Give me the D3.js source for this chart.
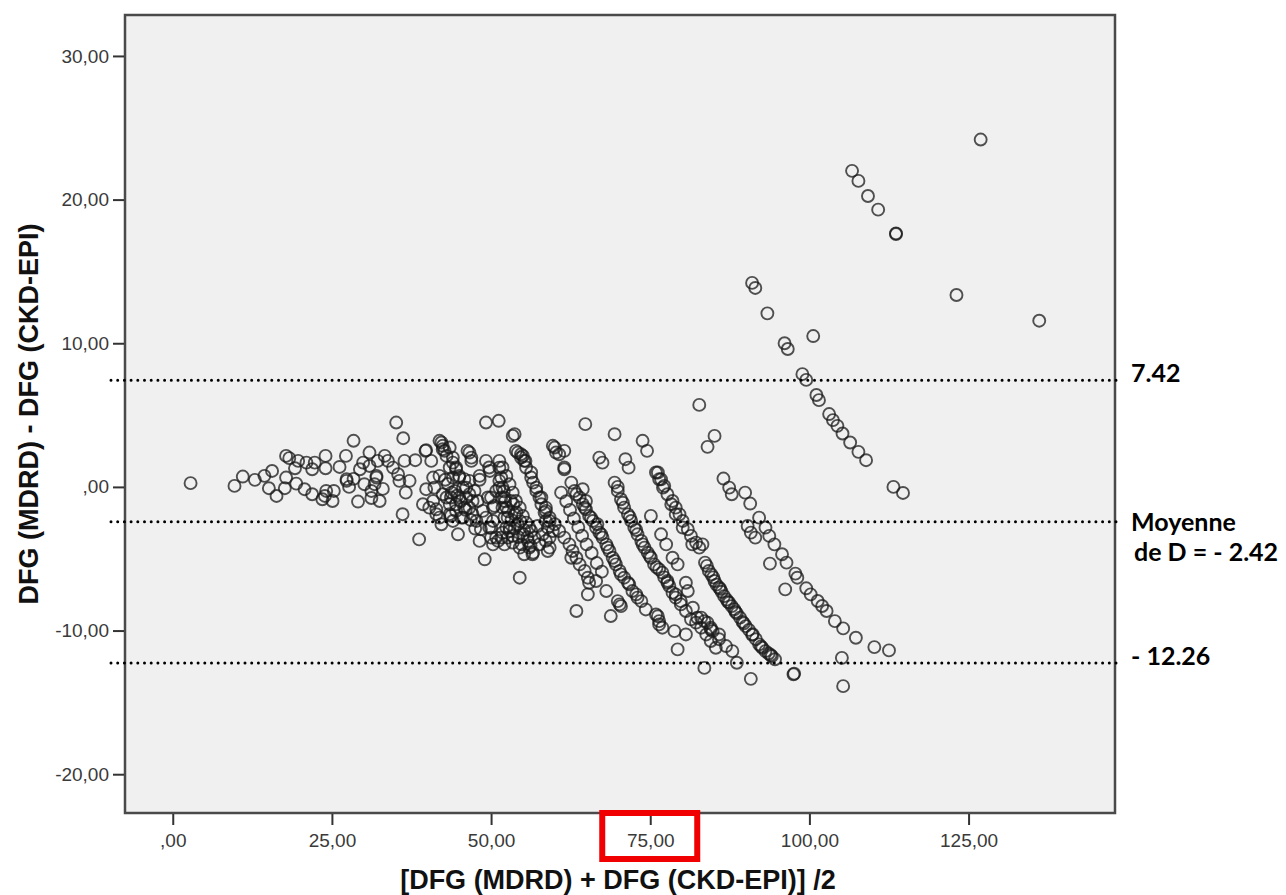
<!DOCTYPE html>
<html>
<head>
<meta charset="utf-8">
<script src="https://cdn.jsdelivr.net/npm/d3@7"></script>
<style>
  body { margin: 0; background: #fff; }
  svg { display: block; }
</style>
</head>
<body>
<svg id="chart" width="1286" height="895"></svg>
<script>
// Axis ticks (comma decimal separator, SPSS style)
const xTickValues = [0, 25, 50, 75, 100, 125];
const xTickLabels = [",00", "25,00", "50,00", "75,00", "100,00", "125,00"];
const yTickValues = [30, 20, 10, 0, -10, -20];
const yTickLabels = ["30,00", "20,00", "10,00", ",00", "-10,00", "-20,00"];

// Bland-Altman reference lines: upper limit, mean difference, lower limit
const limitValues = [7.42, -2.42, -12.26];
const limitLabels = [["7.42"], ["Moyenne", "de D = - 2.42"], ["- 12.26"]];
const highlightedTick = 75;

const xTitle = "[DFG (MDRD) + DFG (CKD-EPI)] /2";
const yTitle = "DFG (MDRD) - DFG (CKD-EPI)";

// [mean of both GFR estimates, difference MDRD - CKD-EPI]
const lowGfr = [
  [2.8,0.26],[9.7,0.07],[11.0,0.72],[12.9,0.49],[14.4,0.77],[15.6,1.11],[15.1,-0.09],[16.3,-0.63],
  [17.8,2.16],[18.3,2.0],[17.8,0.65],[17.6,-0.09],[19.2,1.3],[19.7,1.81],[19.4,0.23],[20.7,-0.16],
  [21.0,1.69],[21.9,1.23],[22.3,1.69],[21.9,-0.51],[23.5,-0.86],[24.0,2.16],[24.0,1.3],[24.1,-0.28],
  [25.3,-0.28],[23.9,-0.63],[25.1,-0.98],[26.2,1.39],[27.2,2.16],[27.3,0.54],[27.7,0.0],[27.3,0.42],
  [28.4,0.56],[28.4,3.21],[29.1,-1.02],[29.4,1.23],[29.9,1.69],[30.1,0.19],[30.9,2.39],[30.9,1.46],
  [31.2,-0.28],[31.2,-0.77],[31.7,0.19],[32.0,0.65],[32.0,0.77],[32.2,1.81],[32.5,-0.98],[33.0,-0.14],
  [33.3,2.16],[33.8,1.81],[34.6,1.34],[35.1,4.48],[35.4,0.88],[35.6,0.42],[36.2,3.39],[36.4,1.81],
  [36.6,-0.4],[36.1,-1.9],[37.2,0.42],[38.1,1.86],[38.7,-3.65],[39.3,-1.21],[39.7,2.51],[39.8,-0.16],
  [40.6,1.81],[40.9,0.65],[40.3,-1.44],[41.4,-1.9],[42.2,3.09],[42.4,2.62],[42.4,-0.51],[42.2,-2.6]
];

const midLowGfr = [
  [39.8,2.56],[41.9,3.21],[42.4,2.86],[42.7,2.51],[43.0,2.16],[44.0,1.69],[44.5,1.23],[45.0,0.77],
  [41.9,0.77],[41.1,-0.05],[40.9,-0.98],[41.4,-1.56],[41.9,-2.14],[43.0,-0.74],[43.5,-1.21],[43.7,-2.02],
  [44.5,-1.67],[44.8,-3.3],[45.6,-2.14],[46.3,2.51],[46.9,2.04],[45.8,0.54],[46.1,-0.05],[46.6,-0.51],
  [47.1,-0.98],[48.2,0.77],[48.2,-3.76],[49.0,-5.04],[49.2,4.48],[51.2,4.6],[49.2,1.81],[49.8,1.11],
  [50.0,-0.74],[50.5,-1.32],[50.0,-2.83],[50.8,-3.53],[51.3,1.34],[51.6,0.65],[51.8,-0.05],[52.1,-0.74],
  [52.4,-1.44],[52.6,-2.14],[52.9,-2.83],[53.4,-3.41],[53.4,3.55],[54.2,2.39],[54.5,-6.32],
  [43.5,2.74],[44.0,2.04],[44.5,1.35],[45.0,0.65],[45.6,-0.05],[46.1,-0.74],[46.6,-1.44],[47.1,-1.9],
  [47.7,-2.37],[48.4,-2.95],[43.5,1.35],[44.0,0.65],[44.3,-0.28],[43.7,-0.74],[44.5,-1.21],[43.5,-1.9],
  [44.0,-2.37],[45.3,-2.14],[45.8,-1.44],[45.0,-0.74],[46.6,0.42],[47.4,-0.28],[47.9,-0.98],[48.7,-1.67],
  [49.2,-2.14],[49.7,-2.84],[50.0,-3.53],[50.3,-4.0],[49.5,-0.74],[50.3,-1.44],[50.8,-0.28],[51.3,0.42],
  [46.6,2.39],[46.9,1.81],[49.7,1.35],[48.2,0.5],
  [43.2,0.2],[43.8,-0.4],[44.7,-0.6],[45.2,-1.0],[46.0,-1.6],[46.8,-2.3],[47.5,-2.9],[42.8,0.5]
];

const midGfr = [
  [51.3,1.81],[51.8,1.35],[52.4,0.76],[52.9,0.18],[53.4,-0.40],[53.9,-0.98],[54.5,-1.44],[55.0,-2.02],
  [55.5,-2.49],[56.3,-3.07],[56.8,-3.53],[51.3,-0.05],[51.6,-0.74],[51.8,-1.44],[52.1,-2.14],[52.4,-2.84],
  [51.6,-3.53],[52.1,-4.0],[53.1,-0.98],[53.7,-1.9],[54.2,-2.6],[55.0,-3.3],[55.8,-3.77],[52.9,-3.07],
  [53.4,-3.88],
  [52.2,-1.0],[52.7,-1.7],[53.2,-2.3],[53.7,-2.9],[54.3,-3.5],[54.8,-4.0],[52.0,-0.3],[53.5,-1.2],
  [54.0,-1.8],[54.6,-2.4],[55.2,-3.0],[55.7,-3.5],[56.2,-4.1],
  [54.7,2.27],[55.2,1.81],[55.5,1.35],[56.3,1.0],[56.6,0.3],[57.1,-0.28],[57.6,-0.74],[57.9,-1.21],
  [58.4,-1.79],[58.6,-2.37],[58.9,-2.84],[59.2,-3.53],[59.2,-4.23],[58.1,-3.3],[57.6,-4.0],[56.6,-4.58],
  [56.0,-2.84],[57.3,-2.72],
  [53.9,2.51],[54.7,2.04],[56.3,0.65],[57.1,-0.05],[57.9,-0.74],[58.6,-1.44],[59.2,-2.37],[59.7,-3.07],
  [58.6,-3.76],[58.9,-4.46],[56.5,-4.69],[50.3,-2.37],[51.1,-3.76],[51.8,-3.18],[52.6,-3.53],[54.5,-4.23],
  [55.2,-4.69],[56.0,-4.23],[59.7,2.86],[60.2,2.39],[61.5,1.23],[53.7,3.67],[55.0,2.16],[55.4,1.81],
  [58.6,-1.67],[59.2,-2.14],[60.0,-2.6],[60.7,-3.07],[61.5,-3.53],[62.3,-4.0],[62.8,-4.46],[63.4,-4.93],
  [63.9,-5.39],[64.7,-5.85],[65.2,-6.32],[65.4,-6.67],[66.5,-6.55],[65.2,-7.48],[63.4,-8.64],[62.6,-4.93],
  [68.1,-7.25],[69.9,-7.95],[70.4,-8.3],[68.8,-8.99],[70.2,-8.18],
  [60.0,2.74],[60.7,2.27],[61.5,1.35],[61.5,2.51],[62.6,0.3],[63.1,-0.28],[63.9,-0.74],[64.4,-1.21],
  [64.9,-1.56],[65.4,-2.02],[66.0,-2.37],[66.5,-2.84],[67.0,-3.18],[67.5,-3.53],[68.1,-4.0],[68.6,-4.46],
  [69.1,-4.93],[69.6,-5.39],[70.2,-5.85],[70.9,-6.32],[71.7,-6.78],[72.2,-7.25],[73.0,-7.71],[73.6,-7.95],
  [63.4,-0.51],[64.7,-1.44],[65.7,-2.14],[66.7,-2.6],[67.3,-3.3],[68.3,-4.23],[69.4,-5.16],[70.4,-6.09],
  [71.5,-6.67],[72.8,-7.48],[64.4,-0.16],[64.9,-0.98],
  [61.0,-0.4],[61.8,-1.0],[62.4,-1.6],[63.0,-2.2],[63.7,-2.8],[64.3,-3.4],[65.0,-4.0],[65.8,-4.6],
  [66.6,-5.3],[67.4,-5.9],
  [64.8,4.37],[69.4,3.67],[73.8,3.21],[74.5,2.51],[67.0,2.04],[67.5,1.69],[71.1,1.93],[71.6,1.34]
];

const midHighGfr = [
  [69.4,0.3],[69.9,-0.28],[70.4,-0.86],[70.9,-1.44],[71.5,-1.91],[72.0,-2.37],[72.5,-2.84],[73.0,-3.3],
  [73.6,-3.76],[74.1,-4.23],[74.6,-4.58],[75.1,-4.93],[75.6,-5.39],[76.4,-5.74],[76.9,-5.97],[77.7,-6.67],
  [78.5,-7.36],[79.0,-7.71],[79.8,-8.18],[80.6,-8.64],[81.4,-9.22],[82.2,-9.45],[83.0,-9.8],[83.8,-10.27],
  [84.5,-10.73],[85.3,-11.2],
  [69.9,0.0],[70.7,-1.1],[71.8,-2.1],[72.8,-3.0],[73.8,-4.0],[74.9,-4.8],[76.0,-5.6],[77.2,-6.3],[78.0,-6.9],
  [76.2,1.0],[76.7,0.53],[77.2,0.07],[77.7,-0.51],[78.5,-0.98],[79.0,-1.44],[79.6,-1.91],[80.1,-2.37],
  [80.9,-2.95],[81.4,-3.41],[82.2,-3.88],[82.7,-4.23],
  [75.9,1.0],[76.4,0.53],[77.0,-0.05],[78.3,-1.21],[79.0,-1.9],[80.1,-2.83],[81.6,-4.0],
  [75.1,-2.02],[76.7,-3.3],[77.5,-4.0],[78.5,-4.93],[79.3,-5.39],[77.7,-6.55],[79.0,-7.48],[80.6,-6.67],
  [80.9,-7.25],[79.8,-7.95],[81.7,-8.41],[82.4,-9.11],[83.5,-9.34],[84.5,-9.8],[85.8,-10.27],[74.3,-8.53],
  [75.9,-8.88],[76.4,-9.34],[76.9,-9.8],[78.8,-10.04],[80.6,-10.27],[79.3,-11.31],[76.2,-9.0],[76.4,-9.57],
  [84.8,-10.04]
];

const highGfr = [
  [126.9,24.18],[106.7,22.0],[107.7,21.3],[109.2,20.25],[110.8,19.3],[113.6,17.6],[113.6,17.65],
  [123.1,13.36],[136.1,11.57],[93.4,12.08],[91.0,14.2],[91.5,13.85],[100.6,10.5],[96.1,10.0],[96.6,9.6],
  [98.9,7.85],[99.5,7.45],[101.1,6.4],[101.5,6.04],[103.1,5.07],[103.7,4.65],[104.4,4.25],[105.2,3.72],
  [106.4,3.09],[107.7,2.44],[108.9,1.86],[113.2,0.0],[114.7,-0.42],
  [82.7,5.71],[85.1,3.55],[84.0,2.79],[86.5,0.58],[87.4,-0.05],[87.8,-0.51],[89.9,-0.4],[90.7,-1.16],
  [92.1,-2.14],[90.3,-2.72],[90.8,-3.18],[91.5,-3.53],[93.1,-2.83],[93.7,-3.41],[94.5,-4.0],[93.8,-5.34],
  [95.7,-4.69],[96.4,-5.27],[97.8,-6.04],[98.1,-6.32],[96.2,-7.13],[99.5,-7.06],[100.2,-7.48],[101.3,-7.94],
  [102.0,-8.29],[102.7,-8.64],[104.0,-9.34],[105.3,-9.85],[107.3,-10.5],[110.2,-11.15],[112.5,-11.38],
  [105.1,-11.9],[105.3,-13.87],[97.5,-13.05],[97.6,-13.0],[90.8,-13.36],
  [83.2,-4.0],[83.6,-5.27],[84.2,-5.85],[85.1,-6.55],[85.8,-7.0],[86.6,-7.6],[87.4,-8.06],[88.2,-8.52],
  [89.1,-9.1],[90.0,-9.69],[91.1,-10.26],[92.1,-10.96],[93.1,-11.43],[94.1,-11.78],[94.6,-12.0],
  [83.9,-5.5],[84.6,-6.1],[85.4,-6.8],[86.2,-7.3],[87.0,-7.85],[87.8,-8.3],[88.6,-8.8],[89.5,-9.4],
  [90.5,-9.95],[91.6,-10.6],[92.6,-11.2],[93.6,-11.6],[84.9,-6.3],[86.0,-7.1],[87.2,-8.0],[88.4,-8.7],
  [89.7,-9.5],[91.0,-10.3],[92.4,-11.1],[93.9,-11.7],
  [84.0,-9.46],[84.5,-9.92],[85.8,-10.6],[86.9,-11.08],[87.9,-11.43],[88.6,-12.24],[83.5,-12.6],[83.0,-9.1]
];

const points = [].concat(lowGfr, midLowGfr, midGfr, midHighGfr, highGfr);

// Layout
const plot = { left: 125, right: 1115, top: 15, bottom: 813 };
const x = d3.scaleLinear().domain([-7.5, 148]).range([plot.left, plot.right]);
const y = d3.scaleLinear().domain([-22.7, 32.85]).range([plot.bottom, plot.top]);

const svg = d3.select("#chart");

// Plot background
svg.append("rect")
  .attr("x", plot.left).attr("y", plot.top)
  .attr("width", plot.right - plot.left).attr("height", plot.bottom - plot.top)
  .attr("fill", "#f0f0f0");

// Scatter of open circles
svg.append("g")
  .selectAll("circle")
  .data(points)
  .join("circle")
  .attr("cx", d => x(d[0]))
  .attr("cy", d => y(d[1]))
  .attr("r", 6)
  .attr("fill", "none")
  .attr("stroke", "#1a1a1a")
  .attr("stroke-opacity", 0.75)
  .attr("stroke-width", 1.9);

// Frame
svg.append("rect")
  .attr("x", plot.left).attr("y", plot.top)
  .attr("width", plot.right - plot.left).attr("height", plot.bottom - plot.top)
  .attr("fill", "none")
  .attr("stroke", "#4a4a4a")
  .attr("stroke-width", 2.5);

// Axes
const tickFont = "'Liberation Sans', Arial, sans-serif";
const xAxis = d3.axisBottom(x)
  .tickValues(xTickValues)
  .tickFormat((d, i) => xTickLabels[i])
  .tickSize(11).tickPadding(9);
const yAxis = d3.axisLeft(y)
  .tickValues(yTickValues)
  .tickFormat((d, i) => yTickLabels[i])
  .tickSize(11).tickPadding(4);

function styleAxis(g) {
  g.select(".domain").remove();
  g.selectAll(".tick line").attr("stroke", "#333").attr("stroke-width", 2);
  g.selectAll(".tick text")
    .attr("fill", "#3a3a3a")
    .style("font-family", tickFont)
    .style("font-size", "19px");
}

svg.append("g")
  .attr("transform", `translate(0,${plot.bottom + 1})`)
  .call(xAxis).call(styleAxis);
svg.append("g")
  .attr("transform", `translate(${plot.left - 1},0)`)
  .call(yAxis).call(styleAxis);

// Axis titles
svg.append("text")
  .attr("x", 618).attr("y", 889)
  .attr("text-anchor", "middle")
  .style("font-family", tickFont).style("font-weight", "bold").style("font-size", "27px")
  .attr("fill", "#111")
  .text(xTitle);
svg.append("text")
  .attr("transform", `translate(38,${(plot.top + plot.bottom) / 2}) rotate(-90)`)
  .attr("text-anchor", "middle")
  .style("font-family", tickFont).style("font-weight", "bold").style("font-size", "27px")
  .attr("fill", "#111")
  .text(yTitle);

// Dotted limit lines with their labels
const labelFont = "Lato, 'Open Sans', sans-serif";
limitValues.forEach((v, i) => {
  const ly = y(v);
  svg.append("line")
    .attr("x1", 111).attr("x2", 1122)
    .attr("y1", ly).attr("y2", ly)
    .attr("stroke", "#000")
    .attr("stroke-width", 3)
    .attr("stroke-linecap", "round")
    .attr("stroke-dasharray", "0,6.7");
  const lines = limitLabels[i];
  const t = svg.append("text")
    .style("font-family", labelFont).style("font-weight", "bold").style("font-size", "25px")
    .attr("fill", "#000");
  lines.forEach((s, j) => {
    t.append("tspan")
      .attr("x", j === 0 ? 1131 : 1134)
      .attr("y", lines.length > 1 ? ly + 9 + j * 30 : ly + 2)
      .text(s);
  });
});

// Highlight box around one x tick label
const hx = x(highlightedTick);
svg.append("rect")
  .attr("x", hx - 48).attr("y", plot.bottom)
  .attr("width", 95).attr("height", 46)
  .attr("fill", "none")
  .attr("stroke", "#f00000")
  .attr("stroke-width", 6);
</script>
</body>
</html>
